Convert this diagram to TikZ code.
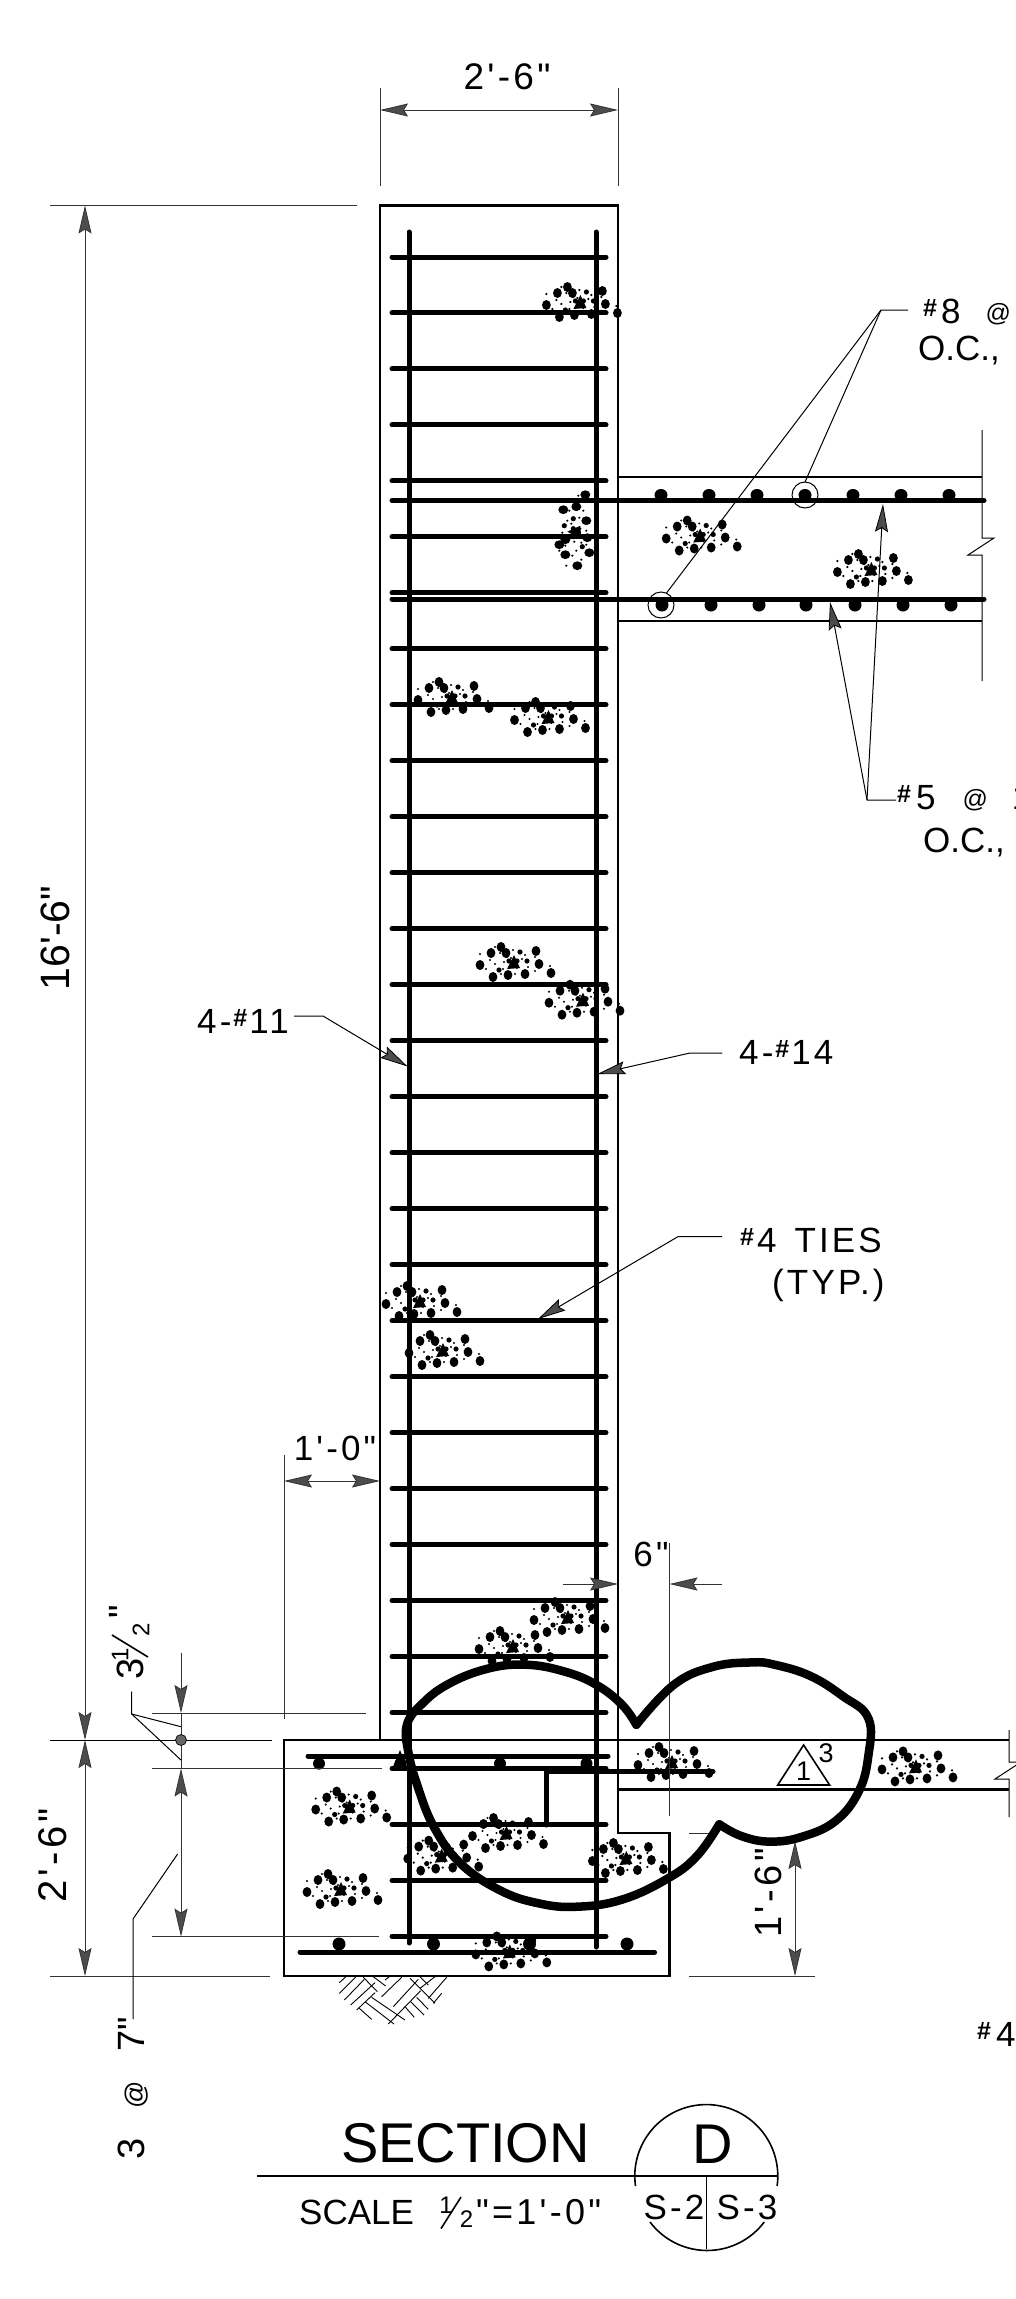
\documentclass[tikz,border=0pt]{standalone}
\usepackage{fontspec}
\usetikzlibrary{arrows.meta}
\newfontfamily\cadfont[LetterSpace=9]{Liberation Sans}
\newfontfamily\cadplain{Liberation Sans}
\newcommand{\fs}[1]{\fontsize{#1}{#1}\selectfont}
\newcommand{\hh}{{\cadplain\fs{25}\bfseries\raisebox{.28em}{\#}}}
\newcommand{\at}{{\fs{25}\raisebox{.05em}{@}}}
\tikzset{
  cadtip/.tip={Stealth[length=28pt,width=13pt,inset=4pt,fill=black!70,line width=.8pt]},
  dimline/.style={line width=1pt,draw=black!80},
  leader/.style={line width=1pt,draw=black},
  conc/.style={line width=2.3pt,draw=black},
  rebar/.style={line width=5pt,draw=black,line cap=round},
  txt/.style={font=\cadfont\fs{35},inner sep=0pt,text=black},
  txtb/.style={txt,anchor=base west},
  aggr/.pic={
    \foreach \a/\b in {-12/-18,-22/-12,-7/-12,23/-14,-33/0,26/-1,-20/12,-5/10,12/9,38/8}
      \fill[black] (\a,\b) ellipse [x radius=4.4pt,y radius=5pt];
    \foreach \a/\b in {-14/5,7/-13,4/-4,14/-4,-4/-4}
      \fill[black] (\a,\b) circle [radius=2.6pt];
    \fill[black] (-6,4) -- (1,-10) -- (7,3) -- cycle;
    \foreach \a/\b in {-18/-18,-33/-11,-23/-5,-18/-1,-27/4,-13/-12,0/-15,-2/-7,-9/-3,12/-10,22/-8,15/2,22/6,37/1,4/3,-12/9,2/9,-6/-8,9/-6,-10/4}
      \fill[black] (\a,\b) circle [radius=1.2pt];
  }
}
\begin{document}
\begin{tikzpicture}[x=1pt,y=-1pt]
\useasboundingbox (0,0) rectangle (1016,2299);
\fill[white] (0,0) rectangle (1016,2299);
\clip (0,0) rectangle (1016,2299);

% concrete outlines
\draw[conc] (380,1740) -- (380,205.5) -- (618,205.5) -- (618,1833) -- (669.5,1833) -- (669.5,1976) -- (284,1976) -- (284,1740) -- (1009,1740);
\draw[conc] (618,477) -- (982,477);
\draw[conc] (618,621) -- (982,621);
\draw[conc] (618,1789.5) -- (1009,1789.5);
\draw[leader] (982,430) -- (982,538) -- (994,538) -- (968,555) -- (982,555) -- (982,681);
\draw[leader] (1009,1730) -- (1009,1762) -- (1021,1762) -- (995,1779) -- (1009,1779) -- (1009,1817);

% column reinforcement
\draw[rebar] (409,232) -- (409,1943);
\draw[rebar] (596,232) -- (596,1947);
\foreach \k in {0,...,30}
  \draw[rebar] (392,{257+55.98*\k}) -- (606,{257+55.98*\k});
% slab bars
\draw[rebar] (392,500.5) -- (984,500.5);
\draw[rebar] (392,599) -- (984,599);
\foreach \a in {661,709,757,805,853,901,949}
  \fill (\a,495) ellipse [x radius=6.5pt,y radius=6pt];
\foreach \a in {662,711,759,806,855,903,951}
  \fill (\a,605) ellipse [x radius=6.5pt,y radius=6.5pt];
\draw[leader] (805,495) circle [radius=13pt];
\draw[leader] (661,605) circle [radius=13pt];
% footing bars
\draw[rebar] (308,1756) -- (608,1756);
\draw[rebar] (300,1952) -- (654.6,1952);
\draw[rebar] (546,1825) -- (546,1771.6) -- (713,1771.6);
\foreach \a in {319,400.5,500,586.5}
  \fill (\a,1763.6) ellipse [x radius=6pt,y radius=6pt];
\fill (392,1769) -- (400,1750) -- (408,1769) -- cycle;
\foreach \a in {339,433.5,529.5,627}
  \fill (\a,1944) ellipse [x radius=6.5pt,y radius=6.5pt];

% aggregate
\foreach \a/\b in {579.4/305,699.2/538.5,870.4/572,451/700,547.5/720,513/965,582/1002.7,419/1304,442/1353,567/1620,512/1649,671/1765,915/1769.4,348.7/1809.5,340/1892,505.5/1836,440.7/1858.6,625.4/1861,508.8/1954.4}
  \pic at (\a,\b) {aggr};
\pic[rotate=90] at (577.3,532.7) {aggr};

% soil hatching
\begin{scope}[xshift=320pt,yshift=-1960pt,x=.3333pt,y=-.3333pt]
\foreach \a/\b/\c/\d in {58/68/78/50,58/100/108/50,73/120/133/58,92/135/165/68,110/150/165/98,185/110/245/52,220/140/295/58,205/192/302/92,325/115/380/52,340/130/365/100,300/85/345/50,195/60/208/50,130/52/172/95,160/50/197/78,270/55/345/130,300/50/325/75,155/112/255/180,135/125/222/192,118/145/155/178,255/140/283/172,272/125/312/165,290/112/325/148}
  \draw[line width=.9pt] (\a,\b) -- (\c,\d);
\end{scope}

% dimension lines
\draw[dimline] (380,88) -- (380,186);
\draw[dimline] (618,88) -- (618,186);
\draw[dimline,{cadtip}-{cadtip}] (380,110) -- (618,110);
\draw[dimline] (50,205.5) -- (357,205.5);
\draw[dimline,{cadtip}-{cadtip}] (85,205.5) -- (85,1740);
\draw[leader] (50,1740) -- (272,1740);
\draw[dimline] (50,1976) -- (270,1976);
\draw[dimline,{cadtip}-{cadtip}] (85,1740) -- (85,1976);
\draw[dimline] (689,1976) -- (815,1976);
\draw[dimline] (689,1833.6) -- (713,1833.6);
\draw[dimline,{cadtip}-{cadtip}] (795,1841) -- (795,1976);
\draw[dimline] (284,1455) -- (284,1719);
\draw[dimline,{cadtip}-{cadtip}] (284,1481) -- (380,1481);
\draw[dimline] (669.5,1543) -- (669.5,1816);
\draw[dimline,-{cadtip}] (563,1584) -- (618,1584);
\draw[dimline,-{cadtip}] (722,1584) -- (669.5,1584);
\draw[dimline] (152,1713) -- (366,1713);
\draw[dimline] (152,1768.5) -- (382,1768.5);
\draw[dimline] (152,1936.6) -- (378.5,1936.6);
\draw[dimline,-{cadtip}] (181,1652.6) -- (181,1713);
\draw[dimline] (181,1713) -- (181,1768.5);
\draw[dimline,{cadtip}-{cadtip}] (181,1768.5) -- (181,1936.6);
\fill[black!60,draw=black,line width=.7pt] (181,1740) circle [radius=5.5pt];

% leaders
\draw[leader] (908,310) -- (881,310) -- (805,482);
\draw[leader] (881,310) -- (666.5,593);
\draw[leader,-{cadtip}] (896,800) -- (867,800) -- (830,602);
\draw[leader,-{cadtip}] (867,800) -- (883,504);
\draw[leader,-{cadtip}] (294,1016) -- (323,1016) -- (407.6,1066.5);
\draw[leader,-{cadtip}] (722.4,1053) -- (690,1053) -- (597.4,1074);
\draw[leader,-{cadtip}] (722,1236.6) -- (678,1236.6) -- (538,1319);
\draw[leader] (131.7,1691.7) -- (131.7,1714) -- (181,1726.7);
\draw[leader] (131.7,1714) -- (181,1760);
\draw[leader] (177.6,1854) -- (133,1919) -- (133,2019);

% revision cloud
\begin{scope}[yshift=-1600pt,x=.648pt,y=-.4458pt]
\draw[line width=8.5pt,line cap=round,line join=round]
  plot[smooth,tension=.7] coordinates {(982,280) (960,235) (920,190) (870,160) (810,145) (750,155) (690,190) (650,235) (628,280) (630,340) (645,420) (670,510) (710,590) (770,650) (830,680) (890,688) (960,672) (1030,625) (1075,575) (1110,503)};
\draw[line width=8.5pt,line cap=round,line join=round]
  plot[smooth,tension=.7] coordinates {(1110,503) (1145,530) (1190,542) (1240,530) (1290,495) (1325,430) (1340,350) (1340,265) (1300,215) (1250,170) (1195,145) (1160,140) (1100,150) (1040,190) (982,280)};
\end{scope}
\draw[line width=1.6pt] (803.6,1745) -- (777.7,1785) -- (829.6,1785) -- cycle;
\node[txt,font=\cadplain\fs{27}] (revone) at (803.6,1771) {1};
\node[txt,font=\cadplain\fs{27}] (revthree) at (826,1753) {3};

% section marker
\draw[line width=1.6pt] (257,2176) -- (778,2176);
\draw[line width=1.6pt] (635.5,2186) arc[start angle=188,end angle=-8,radius=71.5pt];
\draw[line width=1.6pt] (650,2222) arc[start angle=143,end angle=37,x radius=71.5pt,y radius=-71.5pt];
\draw[line width=1.6pt] (706.4,2176) -- (706.4,2248.7);

% labels
\node[txt,font=\cadfont\fs{37}] (wtop) at (507,77) {2'-6"};
\node[txt,font=\cadplain\fs{41},rotate=90] (hcol) at (55,938) {16'-6"};
\node[txt,font=\cadfont\fs{40},rotate=90] (hfoot) at (53,1855) {2'-6"};
\node[txt,font=\cadfont\fs{38},rotate=90] (hedge) at (768,1893) {1'-6"};
\node[txt] (dleft) at (335,1448) {1'-0"};
\node[txt] (dsix) at (651,1554) {6"};
\node[txtb] (lbar) at (197,1033) {4-\hspace{2pt}\hh\hspace{2pt}11};
\node[txtb] (rbar) at (739,1064) {4-\hspace{2pt}\hh\hspace{2pt}14};
\node[txtb] (ties) at (740,1252) {\hh\hspace{3pt}4\hspace{18pt}TIES};
\node[txtb] (typ) at (772,1294) {(TYP.)};
\node[txtb] (topa) at (923,323) {\hh\hspace{4pt}8\hspace{25pt}\at};
\node[txtb,font=\cadplain\fs{35}] (topb) at (918,360) {O.C.,};
\node[txtb] (bota) at (897,809) {\hh\hspace{5pt}5\hspace{27pt}\at\hspace{24pt}1};
\node[txtb,font=\cadplain\fs{35}] (botb) at (923,852) {O.C.,};
\node[txtb] (fourb) at (977,2046) {\hh\hspace{5pt}4};
\node[txt,font=\cadplain\fs{38},rotate=90] (three) at (130,1669) {3};
\node[txt,font=\cadplain\fs{24},rotate=90] (numone) at (120,1655) {1};
\draw[line width=1.6pt] (112,1635) -- (148,1657);
\node[txt,font=\cadplain\fs{24},rotate=90] (numtwo) at (141,1630) {2};
\node[txt,font=\cadplain\fs{38},rotate=90] (threeq) at (122,1612) {"};
\node[txt,font=\cadplain\fs{38},rotate=90] (spacing) at (133,2088) {3\hspace{29pt}{\fs{27}@}\hspace{30pt}7"};
\node[txt,font=\cadplain\fs{56}] (title) at (465.5,2143.5) {SECTION};
\node[txt,font=\cadplain\fs{35},anchor=base west] (scale) at (299,2224) {SCALE};
\node[txt,font=\cadplain\fs{24}] (fone) at (446,2205) {1};
\draw[line width=1.6pt] (441,2228.6) -- (461,2197);
\node[txt,font=\cadplain\fs{24}] (ftwo) at (466.6,2219) {2};
\node[txt,font=\cadfont\fs{36},anchor=base west] (scaleb) at (476,2224) {"=1'-0"};
\node[txt,font=\cadplain\fs{56}] (dmark) at (713,2144) {D};
\node[txt,font=\cadfont\fs{35}] (sa) at (674,2207) {S-2};
\node[txt,font=\cadfont\fs{35}] (sb) at (747,2207) {S-3};
\end{tikzpicture}
\end{document}
